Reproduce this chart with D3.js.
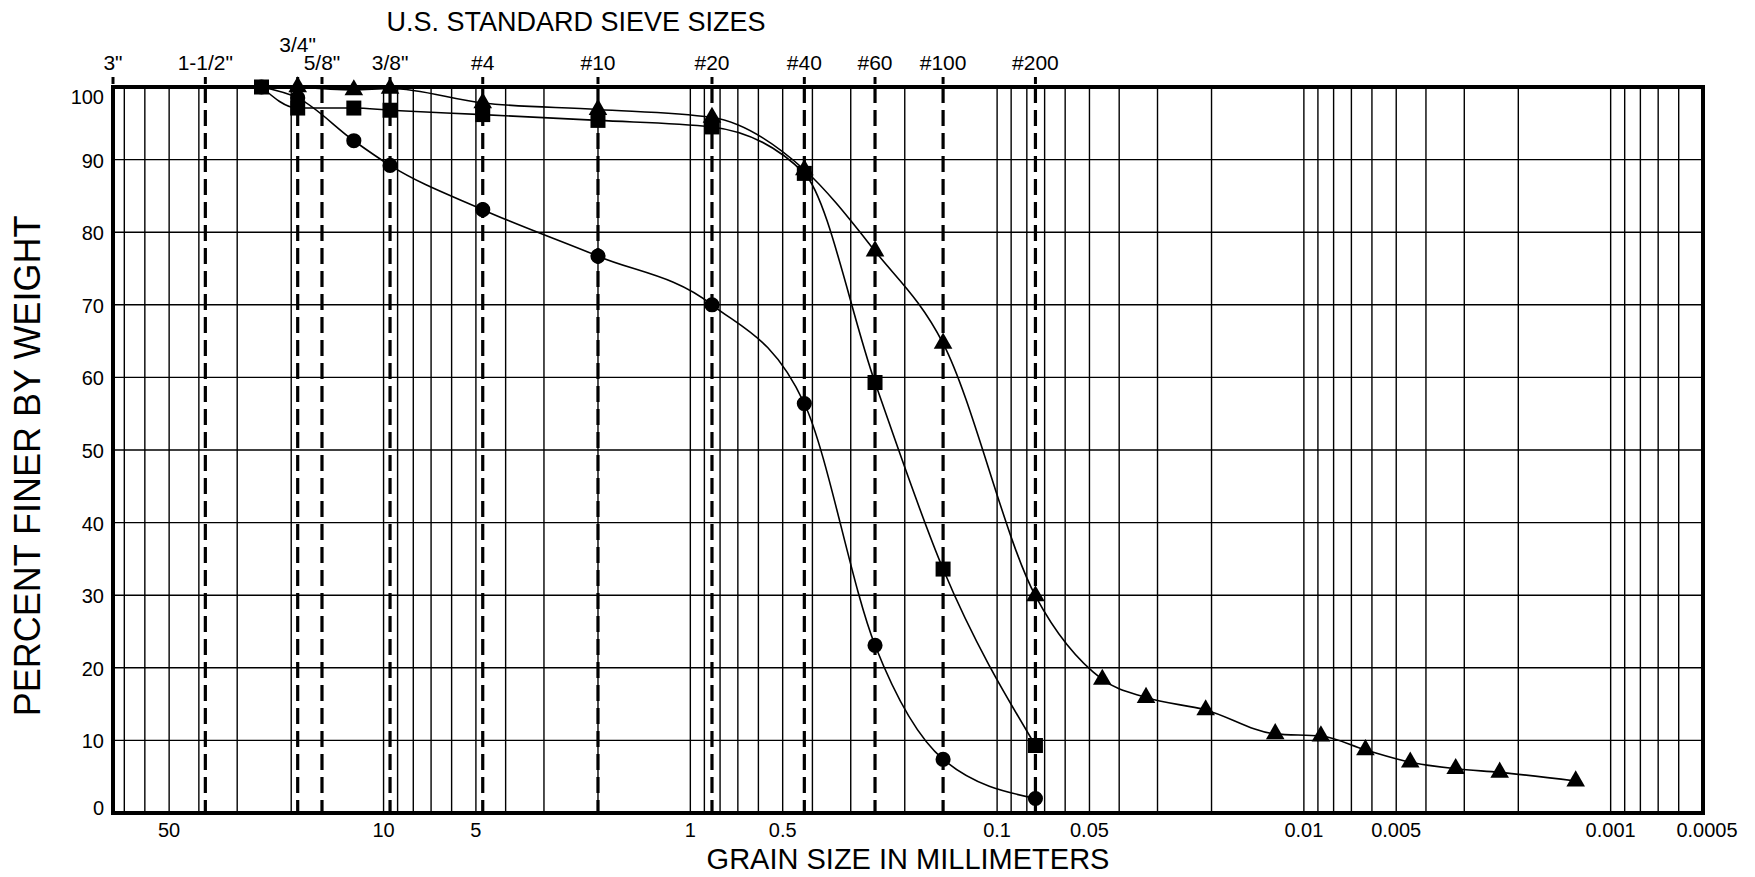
<!DOCTYPE html>
<html>
<head>
<meta charset="utf-8">
<script src="https://cdn.jsdelivr.net/npm/d3@7/dist/d3.min.js"></script>
<style>
  html, body { margin: 0; padding: 0; background: #fff; }
  svg { display: block; font-family: "Liberation Sans", Arial, Helvetica, sans-serif; }
</style>
</head>
<body>
<svg id="chart" width="1755" height="877"></svg>
<script>
// U.S. standard sieve openings (mm) and their labels
const sieveLabels = ['3"', '1-1/2"', '3/4"', '5/8"', '3/8"', '#4', '#10', '#20', '#40', '#60', '#100', '#200'];
const sieveSizes  = [76.2, 38.1, 19.05, 15.875, 9.525, 4.75, 2.0, 0.85, 0.425, 0.25, 0.15, 0.075];

// Grain size axis labels (mm)
const xTickValues = [50, 10, 5, 1, 0.5, 0.1, 0.05, 0.01, 0.005, 0.001, 0.0005];
const xTickLabels = ['50', '10', '5', '1', '0.5', '0.1', '0.05', '0.01', '0.005', '0.001', '0.0005'];

// Percent finer axis
const yTickValues = [0, 10, 20, 30, 40, 50, 60, 70, 80, 90, 100];

// Sample 1 (circles)
const circleSizes = [25.0, 19.05, 12.5, 9.525, 4.75, 2.0, 0.85, 0.425, 0.25, 0.15, 0.075];
const circlePct   = [100, 98.5, 92.6, 89.2, 83.1, 76.7, 70.0, 56.4, 23.1, 7.4, 2.0];

// Sample 2 (squares)
const squareSizes = [25.0, 19.05, 12.5, 9.525, 4.75, 2.0, 0.85, 0.425, 0.25, 0.15, 0.075];
const squarePct   = [100, 97.1, 97.1, 96.8, 96.2, 95.4, 94.5, 88.1, 59.3, 33.6, 9.3];

// Sample 3 (triangles) – sieve plus hydrometer readings
const triangleSizes = [19.05, 12.5, 9.525, 4.75, 2.0, 0.85, 0.425, 0.25, 0.15, 0.075,
                       0.0454, 0.0327, 0.0209, 0.0124, 0.0088, 0.0063, 0.0045, 0.0032, 0.0023, 0.0013];
const trianglePct   = [100, 99.6, 99.8, 97.8, 96.9, 95.8, 88.6, 77.4, 64.7, 29.9,
                       18.4, 15.9, 14.2, 10.9, 10.6, 8.7, 7.0, 6.1, 5.6, 4.4];

const svg = d3.select('#chart');
const plotLeft = 113, plotRight = 1703, plotTop = 87, plotBottom = 813;

const x = d3.scaleLog().domain([76.2, 0.0005]).range([plotLeft, plotRight]);
const y = d3.scaleLinear().domain([0, 100]).range([plotBottom, plotTop]);

// Minor log gridlines: 1..9 x 10^k inside the domain
const gridX = [];
for (let k = -4; k <= 1; k++) {
  for (let m = 1; m <= 9; m++) {
    const v = +(m * Math.pow(10, k)).toPrecision(6);
    if (v > 0.0005 && v < 76.2) gridX.push(v);
  }
}

const grid = svg.append('g').attr('stroke', '#000').attr('stroke-width', 1.4);
grid.selectAll('line.vx').data(gridX).join('line')
  .attr('class', 'vx')
  .attr('x1', d => x(d)).attr('x2', d => x(d))
  .attr('y1', plotTop).attr('y2', plotBottom);
grid.selectAll('line.hy').data(yTickValues.filter(v => v > 0 && v < 100)).join('line')
  .attr('class', 'hy')
  .attr('x1', plotLeft).attr('x2', plotRight)
  .attr('y1', d => y(d)).attr('y2', d => y(d));

// Sieve lines (dashed) and their top ticks
const sieves = sieveSizes.map((s, i) => ({ size: s, label: sieveLabels[i] }));
const sieveG = svg.append('g');
sieveG.selectAll('line.sieve').data(sieves.filter(d => d.size < 76.2)).join('line')
  .attr('class', 'sieve')
  .attr('x1', d => x(d.size)).attr('x2', d => x(d.size))
  .attr('y1', plotTop).attr('y2', plotBottom)
  .attr('stroke', '#000').attr('stroke-width', 3.2)
  .attr('stroke-dasharray', '16,7');
sieveG.selectAll('line.tick').data(sieves).join('line')
  .attr('class', 'tick')
  .attr('x1', d => x(d.size)).attr('x2', d => x(d.size))
  .attr('y1', 77).attr('y2', 84)
  .attr('stroke', '#000').attr('stroke-width', 3);
sieveG.selectAll('text').data(sieves).join('text')
  .attr('x', d => x(d.size))
  .attr('y', d => d.label === '3/4"' ? 52 : 70)
  .attr('text-anchor', 'middle')
  .attr('font-size', 21)
  .text(d => d.label);

svg.append('text')
  .attr('x', 576).attr('y', 31)
  .attr('text-anchor', 'middle')
  .attr('font-size', 27)
  .text('U.S. STANDARD SIEVE SIZES');

// Series curves and markers
const line = d3.line().x(d => x(d.size)).y(d => y(d.pct)).curve(d3.curveMonotoneX);
const circles = circleSizes.map((s, i) => ({ size: s, pct: circlePct[i] }));
const squares = squareSizes.map((s, i) => ({ size: s, pct: squarePct[i] }));
const triangles = triangleSizes.map((s, i) => ({ size: s, pct: trianglePct[i] }));

const curves = svg.append('g').attr('fill', 'none').attr('stroke', '#000').attr('stroke-width', 1.6);
[circles, squares, triangles].forEach(series => curves.append('path').attr('d', line(series)));

const marks = svg.append('g').attr('fill', '#000');
marks.selectAll('path.c').data(circles).join('path').attr('class', 'c')
  .attr('transform', d => `translate(${x(d.size)},${y(d.pct)})`)
  .attr('d', d3.symbol(d3.symbolCircle, 180));
marks.selectAll('path.s').data(squares).join('path').attr('class', 's')
  .attr('transform', d => `translate(${x(d.size)},${y(d.pct)})`)
  .attr('d', d3.symbol(d3.symbolSquare, 225));
marks.selectAll('path.t').data(triangles).join('path').attr('class', 't')
  .attr('transform', d => `translate(${x(d.size)},${y(d.pct)})`)
  .attr('d', d3.symbol(d3.symbolTriangle, 150));

// Frame
svg.append('rect')
  .attr('x', plotLeft).attr('y', plotTop)
  .attr('width', plotRight - plotLeft).attr('height', plotBottom - plotTop)
  .attr('fill', 'none').attr('stroke', '#000').attr('stroke-width', 4);

// Axis labels
svg.append('g').selectAll('text').data(yTickValues).join('text')
  .attr('x', 104)
  .attr('y', d => y(d) + (d === 100 ? 10 : d === 0 ? -5 : 1))
  .attr('text-anchor', 'end')
  .attr('dominant-baseline', 'central')
  .attr('font-size', 20)
  .text(d => d);

svg.append('g').selectAll('text').data(xTickValues).join('text')
  .attr('x', d => x(d) + (d === 0.0005 ? 4 : 0))
  .attr('y', 837)
  .attr('text-anchor', 'middle')
  .attr('font-size', 20)
  .text((d, i) => xTickLabels[i]);

svg.append('text')
  .attr('x', 908).attr('y', 869)
  .attr('text-anchor', 'middle')
  .attr('font-size', 29)
  .text('GRAIN SIZE IN MILLIMETERS');

svg.append('text')
  .attr('transform', 'translate(40,466) rotate(-90)')
  .attr('text-anchor', 'middle')
  .attr('font-size', 36)
  .text('PERCENT FINER BY WEIGHT');
</script>
</body>
</html>
